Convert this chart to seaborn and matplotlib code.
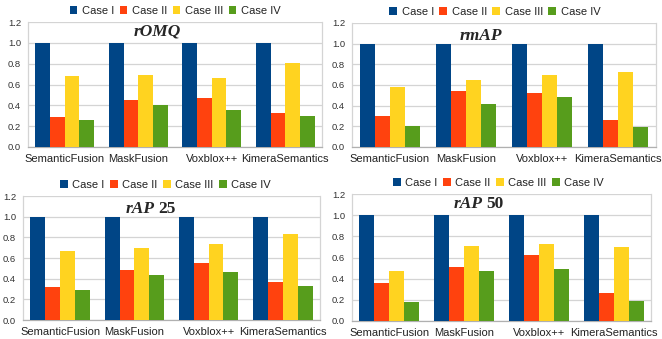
import matplotlib
matplotlib.use("Agg")
import matplotlib.pyplot as plt
import matplotlib.transforms as mtransforms
import seaborn as sns
import pandas as pd

methods = ["SemanticFusion", "MaskFusion", "Voxblox++", "KimeraSemantics"]
cases = ["Case I", "Case II", "Case III", "Case IV"]

# values per case, in order of methods
romq_case1 = [1.0, 1.0, 1.0, 1.0]
romq_case2 = [0.29, 0.45, 0.47, 0.33]
romq_case3 = [0.68, 0.69, 0.66, 0.81]
romq_case4 = [0.26, 0.40, 0.36, 0.30]

rmap_case1 = [1.0, 1.0, 1.0, 1.0]
rmap_case2 = [0.30, 0.54, 0.52, 0.26]
rmap_case3 = [0.58, 0.65, 0.70, 0.73]
rmap_case4 = [0.20, 0.42, 0.48, 0.19]

rap25_case1 = [1.0, 1.0, 1.0, 1.0]
rap25_case2 = [0.32, 0.48, 0.55, 0.37]
rap25_case3 = [0.67, 0.70, 0.74, 0.83]
rap25_case4 = [0.29, 0.44, 0.46, 0.33]

rap50_case1 = [1.0, 1.0, 1.0, 1.0]
rap50_case2 = [0.36, 0.51, 0.62, 0.26]
rap50_case3 = [0.47, 0.71, 0.73, 0.70]
rap50_case4 = [0.18, 0.47, 0.49, 0.19]

colors = ["#004586", "#ff420e", "#ffd320", "#579d1c"]

panels = [
    ("rOMQ", None, [romq_case1, romq_case2, romq_case3, romq_case4],
     [28, 22, 322, 147], 0.439, 1.105, 0.50),
    ("rmAP", None, [rmap_case1, rmap_case2, rmap_case3, rmap_case4],
     [352, 23, 656, 147], 0.424, 1.078, 0.47),
    ("rAP", "25", [rap25_case1, rap25_case2, rap25_case3, rap25_case4],
     [23, 196, 320, 320], 0.444, 1.075, 0.48),
    ("rAP", "50", [rap50_case1, rap50_case2, rap50_case3, rap50_case4],
     [352, 194, 651, 321], 0.438, 1.105, 0.49),
]

W, H = 662, 339
fig = plt.figure(figsize=(W / 100, H / 100), dpi=100)
sns.set_style("white")
plt.rcParams["font.family"] = ["Liberation Sans", "DejaVu Sans"]

for title, suffix, series, (x0, y0, x1, y1), tx, ty, lx in panels:
    ax = fig.add_axes([x0 / W, 1 - y1 / H, (x1 - x0) / W, (y1 - y0) / H])
    rows = []
    for case, vals in zip(cases, series):
        for m, v in zip(methods, vals):
            rows.append({"method": m, "case": case, "value": v})
    df = pd.DataFrame(rows)
    sns.barplot(data=df, x="method", y="value", hue="case", order=methods,
                hue_order=cases, palette=colors, width=0.8, saturation=1,
                linewidth=0, ax=ax, zorder=3)
    ax.set_ylim(0, 1.2)
    ax.set_xlim(-0.5, 3.5)
    yt = [0, 0.2, 0.4, 0.6, 0.8, 1.0, 1.2]
    ax.set_yticks(yt)
    ax.set_yticklabels([f"{t:.1f}" for t in yt])
    ax.set_xlabel("")
    ax.set_ylabel("")
    ax.yaxis.grid(True, color="#d4d4d4", linewidth=0.9, zorder=0)
    ax.set_axisbelow(True)
    ax.spines["top"].set_visible(False)
    ax.spines["left"].set_color("#d4d4d4")
    ax.spines["right"].set_color("#d4d4d4")
    ax.spines["bottom"].set_color("#b0b0b0")
    for s in ax.spines.values():
        s.set_linewidth(0.9)
    ax.set_xticks([-0.5, 0.5, 1.5, 2.5, 3.5], minor=True)
    ax.tick_params(axis="x", which="major", length=0, labelsize=8.0,
                   pad=5, labelcolor="#222222")
    ax.tick_params(axis="x", which="minor", length=4, color="#b0b0b0",
                   width=0.9)
    ax.tick_params(axis="y", length=3, color="#d4d4d4", labelsize=6.8,
                   pad=2, labelcolor="#333333")
    handles, labels = ax.get_legend_handles_labels()
    ax.legend(handles, labels, ncol=4, frameon=False, loc="center",
              bbox_to_anchor=(lx, 1.09), fontsize=8, handlelength=0.7,
              handleheight=0.7, handletextpad=0.4, columnspacing=0.5,
              borderpad=0, labelcolor="#222222")
    tr = mtransforms.blended_transform_factory(ax.transAxes, ax.transData)
    if suffix is None:
        ax.text(tx, ty, title, transform=tr, ha="center", va="center",
                fontsize=12.5, fontweight="bold", fontstyle="italic",
                family="Liberation Serif", zorder=5)
    else:
        ax.text(tx, ty, title, transform=tr, ha="right", va="center",
                fontsize=12.5, fontweight="bold", fontstyle="italic",
                family="Liberation Serif", zorder=5)
        ax.text(tx + 0.012, ty, suffix, transform=tr, ha="left", va="center",
                fontsize=12.5, fontweight="bold", family="Liberation Serif",
                zorder=5)

fig.savefig("out.png", dpi=100)
